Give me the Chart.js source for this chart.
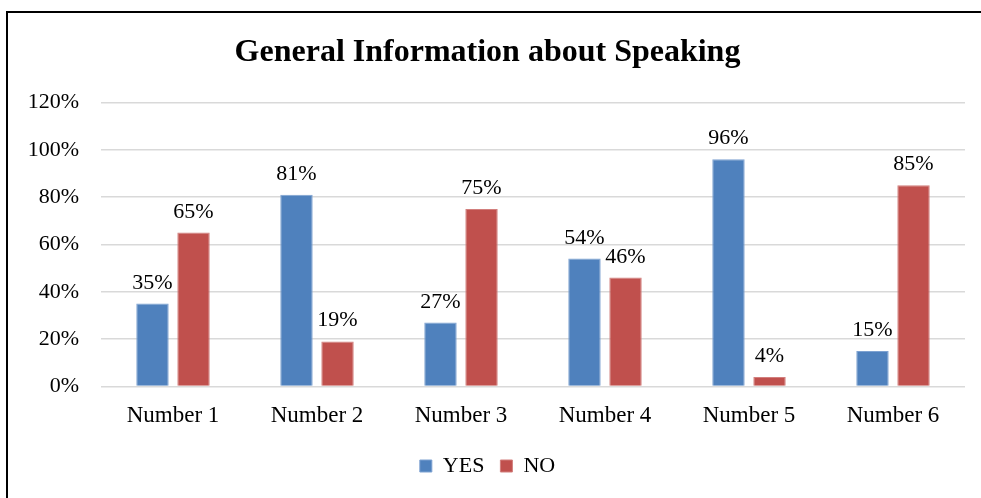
<!DOCTYPE html>
<html>
<head>
<meta charset="utf-8">
<title>General Information about Speaking</title>
<script src="https://cdn.jsdelivr.net/npm/chart.js@4"></script>
<style>
  html, body { margin: 0; padding: 0; background: #fff; overflow: hidden; }
  #wrap { position: relative; width: 981px; height: 498px; }
  #frame { position: absolute; left: 6px; top: 11px; width: 1100px; height: 600px; border: 2px solid #000; }
  #chart { position: absolute; left: 0; top: 0; }
</style>
</head>
<body>
<div id="wrap">
  <div id="frame"></div>
  <canvas id="chart" width="981" height="498"></canvas>
</div>
<script>
// ============================================
// Speaking survey - YES / NO answers per question
// ============================================

const categories = ['Number 1', 'Number 2', 'Number 3', 'Number 4', 'Number 5', 'Number 6'];
const yesValues = [35, 81, 27, 54, 96, 15];
const noValues = [65, 19, 75, 46, 4, 85];
const yTicks = [0, 20, 40, 60, 80, 100, 120];

const FONT = "'Liberation Serif', 'Times New Roman', serif";

const colors = {
  blue: '#4f81bd',
  blueEdge: '#7ea2d1',
  red: '#c0504d',
  redEdge: '#d27f7d',
  grid: '#d9d9d9',
  text: '#000000'
};

// value labels drawn above each bar
const barLabels = {
  id: 'barLabels',
  afterDatasetsDraw(chart) {
    const ctx = chart.ctx;
    ctx.save();
    ctx.font = `22px ${FONT}`;
    ctx.fillStyle = colors.text;
    ctx.textAlign = 'center';
    ctx.textBaseline = 'alphabetic';
    chart.data.datasets.forEach((ds, i) => {
      const meta = chart.getDatasetMeta(i);
      meta.data.forEach((bar, j) => {
        ctx.fillText(ds.data[j] + '%', bar.x, bar.y - 15);
      });
    });
    ctx.restore();
  }
};

new Chart(document.getElementById('chart'), {
  type: 'bar',
  data: {
    labels: categories,
    datasets: [
      {
        label: 'YES',
        data: yesValues,
        backgroundColor: colors.blue,
        borderColor: colors.blueEdge,
        borderWidth: 1,
        categoryPercentage: 0.57,
        barPercentage: 0.79
      },
      {
        label: 'NO',
        data: noValues,
        backgroundColor: colors.red,
        borderColor: colors.redEdge,
        borderWidth: 1,
        categoryPercentage: 0.57,
        barPercentage: 0.79
      }
    ]
  },
  options: {
    responsive: false,
    animation: false,
    layout: { padding: { left: 10, right: 16, top: 10, bottom: 11 } },
    plugins: {
      title: {
        display: true,
        text: 'General Information about Speaking',
        color: colors.text,
        font: { family: FONT, size: 32, weight: 'bold' },
        padding: { top: 24, bottom: 30 }
      },
      legend: {
        position: 'bottom',
        labels: {
          color: colors.text,
          font: { family: FONT, size: 22 },
          boxWidth: 12,
          boxHeight: 12,
          padding: 16
        }
      },
      tooltip: { enabled: false }
    },
    scales: {
      x: {
        afterFit: s => { s.height += 1; },
        grid: { display: false },
        border: { display: false },
        ticks: { color: colors.text, font: { family: FONT, size: 23 }, padding: 8 }
      },
      y: {
        min: 0,
        max: 120,
        afterBuildTicks: s => { s.ticks = yTicks.map(v => ({ value: v })); },
        afterFit: s => { s.width = 91; },
        grid: { color: colors.grid, lineWidth: 1.5, drawTicks: false },
        border: { display: false },
        ticks: {
          color: colors.text,
          font: { family: FONT, size: 22 },
          padding: 22,
          callback: v => v + '%'
        }
      }
    }
  },
  plugins: [barLabels]
});
</script>
</body>
</html>
